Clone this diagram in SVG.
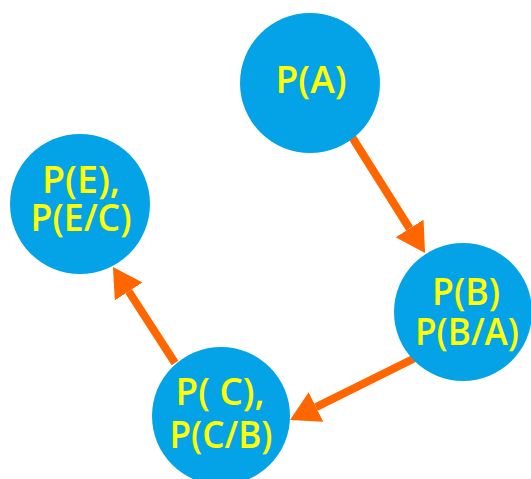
<svg xmlns="http://www.w3.org/2000/svg" width="531" height="479" viewBox="0 0 531 479">
<style>
.node { fill: #04a3e7; }
.lbl { fill: #ffff00; font-family: "Open Sans", "Liberation Sans", sans-serif; font-weight: 600; font-size: 37px; text-anchor: middle; }
.edge { stroke: #ff6600; stroke-width: 8; fill: none; }
</style>
<defs>
<marker id="ah" markerUnits="userSpaceOnUse" markerWidth="30" markerHeight="34" refX="0" refY="16.5" orient="auto" viewBox="0 0 30 34">
<path d="M0,0 L29,16.5 L0,33 z" fill="#ff6600"/>
</marker>
</defs>
<rect width="531" height="479" fill="#ffffff"/>
<g id="connectors">
<path class="edge" d="M352,137 L409.6,228.5" marker-end="url(#ah)"/>
<path class="edge" d="M415,358 L316,407.1" marker-end="url(#ah)"/>
<path class="edge" d="M175,363 L128.7,291.4" marker-end="url(#ah)"/>
</g>
<g id="nodeA">
<circle class="node" cx="310" cy="83" r="70"/>
<text class="lbl" x="311" y="93" textLength="71" lengthAdjust="spacingAndGlyphs">P(A)</text>
</g>
<g id="nodeB">
<circle class="node" cx="463" cy="312" r="69"/>
<text class="lbl" x="466" y="305" textLength="68" lengthAdjust="spacingAndGlyphs">P(B)</text>
<text class="lbl" x="467" y="345" textLength="104" lengthAdjust="spacingAndGlyphs">P(B/A)</text>
</g>
<g id="nodeC">
<circle class="node" cx="221" cy="416" r="69"/>
<text class="lbl" x="220" y="405" textLength="89" lengthAdjust="spacingAndGlyphs">P( C),</text>
<text class="lbl" x="221" y="448" textLength="103" lengthAdjust="spacingAndGlyphs">P(C/B)</text>
</g>
<g id="nodeE">
<circle class="node" cx="80" cy="204" r="70"/>
<text class="lbl" x="81" y="193" textLength="78" lengthAdjust="spacingAndGlyphs">P(E),</text>
<text class="lbl" x="81" y="231" textLength="101" lengthAdjust="spacingAndGlyphs">P(E/C)</text>
</g>
</svg>
